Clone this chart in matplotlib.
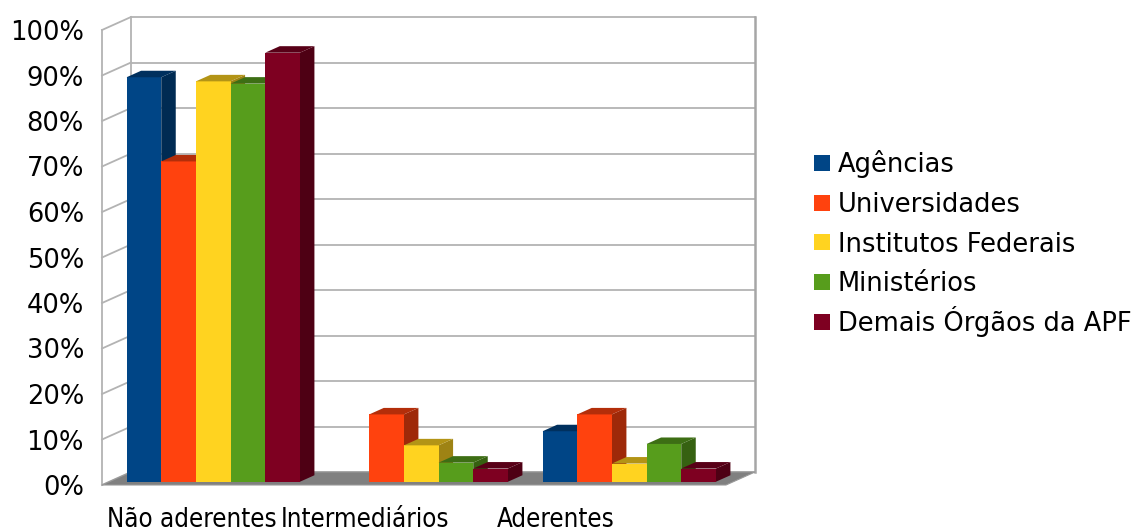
import matplotlib
matplotlib.use("Agg")
import matplotlib.pyplot as plt
from matplotlib.patches import Polygon, Rectangle
from matplotlib.colors import to_rgb
import numpy as np

categories = ["Não aderentes", "Intermediários", "Aderentes"]
series = ["Agências", "Universidades", "Institutos Federais", "Ministérios", "Demais Órgãos da APF"]
agencias = [88.9, 0.0, 11.1]
universidades = [70.4, 14.8, 14.8]
institutos = [88.0, 8.0, 4.0]
ministerios = [87.5, 4.2, 8.3]
demais = [94.3, 2.9, 2.9]
yticks = [0, 10, 20, 30, 40, 50, 60, 70, 80, 90, 100]
ytick_labels = ["0%", "10%", "20%", "30%", "40%", "50%", "60%", "70%", "80%", "90%", "100%"]

values = [agencias, universidades, institutos, ministerios, demais]
colors = ["#004586", "#ff420e", "#ffd320", "#579d1c", "#7e0021"]

W, H = 1136, 531
fig = plt.figure(figsize=(W / 100, H / 100), dpi=100)
ax = fig.add_axes([102 / W, 46 / H, 624 / W, 455 / H])
ax.set_xlim(0, 3)
ax.set_ylim(0, 100)
for s in ax.spines.values():
    s.set_visible(False)

px_x = 624 / 3.0      # pixels per x unit
px_y = 455 / 100.0    # pixels per %
Dx = 29 / px_x
Dy = 13 / px_y
grid_c = "#b3b3b3"

# back wall and left wall
ax.add_patch(Rectangle((Dx, Dy), 3, 100, facecolor="white", edgecolor="none", zorder=0, clip_on=False))
for k in yticks:
    ax.plot([Dx, 3 + Dx], [k + Dy, k + Dy], color=grid_c, lw=1.3, zorder=1, clip_on=False)
    ax.plot([0, Dx], [k, k + Dy], color=grid_c, lw=1.3, zorder=1, clip_on=False)
ax.plot([0, 0], [0, 100], color=grid_c, lw=1.3, zorder=1, clip_on=False)
ax.plot([Dx, Dx], [Dy, 100 + Dy], color=grid_c, lw=1.3, zorder=1, clip_on=False)
ax.plot([3 + Dx, 3 + Dx], [Dy, 100 + Dy], color="#a6a6a6", lw=1.8, zorder=1, clip_on=False)

# floor
ax.add_patch(Polygon([(0, 0), (3, 0), (3 + Dx, Dy), (Dx, Dy)], closed=True,
                     facecolor="#808080", edgecolor="#999999", lw=0.8, zorder=2, clip_on=False))

def shade(c, f):
    r, g, b = to_rgb(c)
    return (r * f, g * f, b * f)

bw = 1 / 6.0
d0 = 0.25
d1 = 0.5
x = np.arange(3)
z = 3
for j, (vals, c) in enumerate(zip(values, colors)):
    lefts = x + 1 / 12 + j * bw + d0 * Dx
    base = d0 * Dy
    for i in range(3):
        v = vals[i]
        if v <= 0:
            continue
        xl = lefts[i]
        xr = xl + bw
        yt = base + v
        ax.bar(xl, v, width=bw, bottom=base, align="edge", color=c, edgecolor="none",
               zorder=z + j * 3, clip_on=False)
        ax.add_patch(Polygon([(xl, yt), (xr, yt), (xr + d1 * Dx, yt + d1 * Dy), (xl + d1 * Dx, yt + d1 * Dy)],
                             closed=True, facecolor=shade(c, 0.7), edgecolor="none",
                             zorder=z + j * 3 + 1, clip_on=False))
        ax.add_patch(Polygon([(xr, base), (xr + d1 * Dx, base + d1 * Dy), (xr + d1 * Dx, yt + d1 * Dy), (xr, yt)],
                             closed=True, facecolor=shade(c, 0.62), edgecolor="none",
                             zorder=z + j * 3 - 1, clip_on=False))

ax.set_yticks(yticks)
ax.set_yticklabels(ytick_labels, fontsize=18.5, color="black")
ax.tick_params(axis="y", length=0, pad=13)

label_px = [191.5, 365, 556]
ax.set_xticks([(p - 102) / px_x for p in label_px])
ax.set_xticklabels(categories, fontsize=18.5, fontstretch="condensed", color="black")
ax.tick_params(axis="x", length=0, pad=16)

# legend drawn manually for exact row spacing
for i, (name, c) in enumerate(zip(series, colors)):
    cy = 163 + 39.75 * i
    fig.patches.append(Rectangle((814 / W, 1 - (cy + 8) / H), 16 / W, 16 / H,
                                 transform=fig.transFigure, facecolor=c, edgecolor="none"))
    fig.text(838 / W, 1 - (cy + 9) / H, name, fontsize=18.5, va="baseline", ha="left", color="black")

fig.savefig("out.png", dpi=100)
